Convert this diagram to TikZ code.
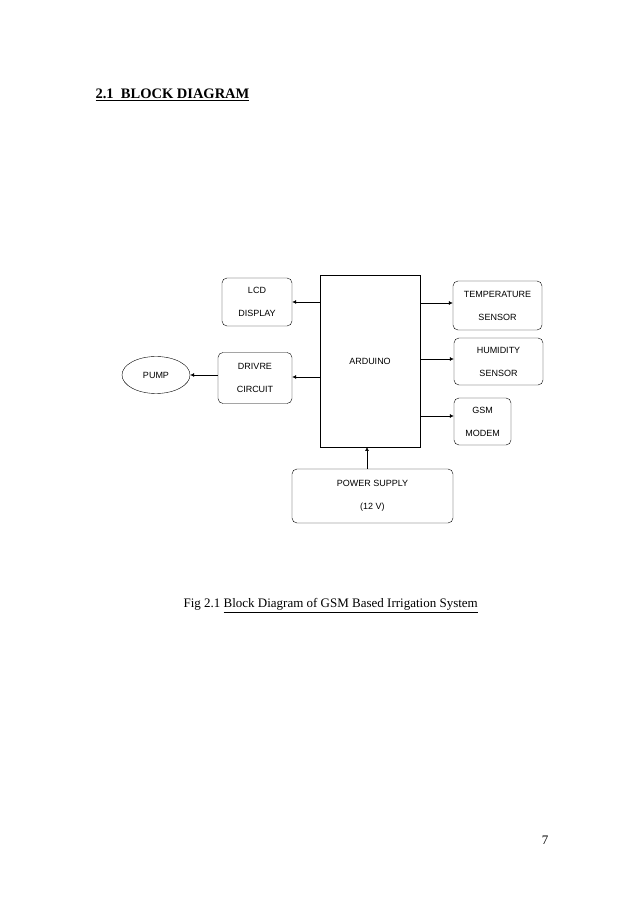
\documentclass[tikz,border=0pt]{standalone}
\usepackage{fontspec}
\setmainfont{Liberation Serif}
\newfontfamily\boxfont{Liberation Sans}
\usetikzlibrary{arrows.meta,shapes.geometric}

\begin{document}
\begin{tikzpicture}[x=1pt,y=1pt,
    blk/.style={draw,rounded corners=5pt,font=\boxfont\fontsize{9}{23}\selectfont,align=center,inner sep=0pt},
    link/.style={-{Latex[length=4pt,width=4pt]},semithick}]
  \useasboundingbox (0,0) rectangle (638,903);

  % Heading and caption
  \node[anchor=base west,font=\bfseries\fontsize{14.5}{16}\selectfont] (head) at (92,804) {\underline{2.1\ \ BLOCK DIAGRAM}};
  \node[anchor=base west,font=\fontsize{13}{15}\selectfont] (cap) at (180,295) {Fig 2.1 \underline{Block Diagram of GSM Based Irrigation System}};
  \node[anchor=base,font=\fontsize{13}{15}\selectfont] (pg) at (545,58) {7};

  % Blocks
  \draw (320,628) rectangle (420,456);
  \node[font=\boxfont\fontsize{9}{11}\selectfont] (ard) at (370,542) {ARDUINO};
  \node[blk,minimum width=70pt,minimum height=48pt] (lcd) at (257,601) {LCD\\DISPLAY};
  \node[blk,minimum width=74pt,minimum height=51pt] (drv) at (255,525) {DRIVRE\\CIRCUIT};
  \node[draw,ellipse,minimum width=68pt,minimum height=37pt,inner sep=0pt,font=\boxfont\fontsize{9}{11}\selectfont] (pump) at (156,528) {PUMP};
  \node[blk,minimum width=89pt,minimum height=49pt] (temp) at (497.5,597.5) {TEMPERATURE\\SENSOR};
  \node[blk,minimum width=89pt,minimum height=47pt] (hum) at (498.5,541.5) {HUMIDITY\\SENSOR};
  \node[blk,minimum width=57pt,minimum height=47pt] (gsm) at (482.5,481.5) {GSM\\MODEM};
  \node[blk,minimum width=161pt,minimum height=54pt] (pwr) at (372.5,407) {POWER SUPPLY\\(12 V)};

  % Connections
  \coordinate (a1) at (320,601);
  \coordinate (a2) at (320,526);
  \coordinate (a3) at (420,600);
  \coordinate (a4) at (420,544);
  \coordinate (a5) at (420,487);
  \coordinate (a6) at (367,456);
  \draw[link] (a1) -- (a1 -| lcd.east);
  \draw[link] (a2) -- (a2 -| drv.east);
  \draw[link] (drv.west |- pump) -- (pump.east);
  \draw[link] (a3) -- (a3 -| temp.west);
  \draw[link] (a4) -- (a4 -| hum.west);
  \draw[link] (a5) -- (a5 -| gsm.west);
  \draw[link] (a6 |- pwr.north) -- (a6);
\end{tikzpicture}
\end{document}
